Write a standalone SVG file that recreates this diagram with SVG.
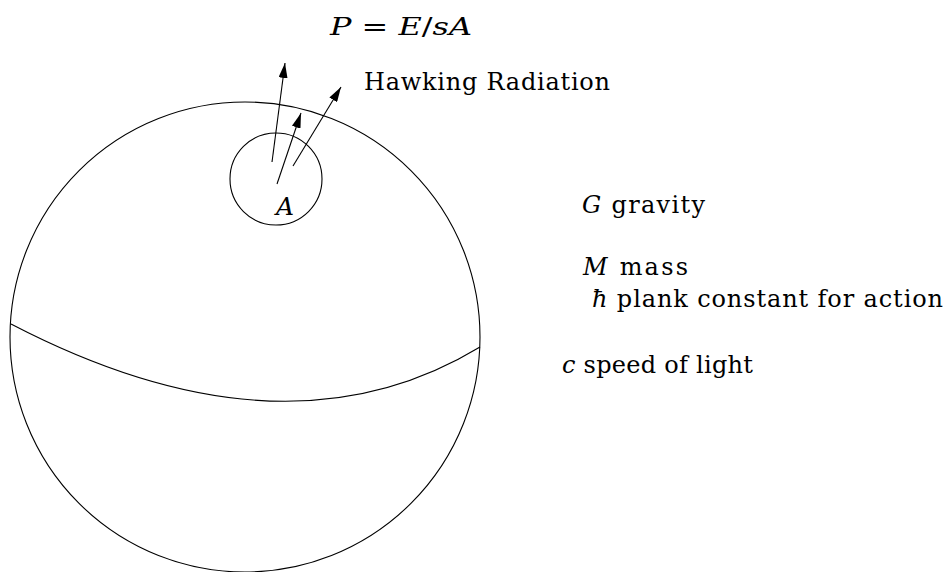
<svg xmlns="http://www.w3.org/2000/svg" width="944" height="572" viewBox="0 0 944 572">
<defs>
<marker id="ah" markerWidth="15" markerHeight="9" refX="15" refY="4.5" orient="auto" markerUnits="userSpaceOnUse">
<path d="M0,0 L15,4.5 L0,9 Z" fill="#000"/>
</marker>
<style>
.ln{fill:none;stroke:#000;stroke-width:1.1}
</style>
</defs>
<rect width="944" height="572" fill="#fff"/>
<g id="sphere">
<circle class="ln" cx="245" cy="337" r="235"/>
<path class="ln" d="M11,324 Q284,466 480,347"/>
</g>
<g id="area">
<circle class="ln" cx="276" cy="179" r="46"/>
<text font-family="DejaVu Serif" font-size="25" font-style="italic" x="276" y="215">A</text>
</g>
<g id="connectors">
<line class="ln" x1="272" y1="162" x2="285" y2="63" marker-end="url(#ah)"/>
<line class="ln" x1="277" y1="184" x2="301" y2="113" marker-end="url(#ah)"/>
<line class="ln" x1="293" y1="166" x2="341" y2="87" marker-end="url(#ah)"/>
</g>
<g id="labels">
<text font-family="DejaVu Serif" font-size="25" x="330" y="35" textLength="142" lengthAdjust="spacingAndGlyphs"><tspan font-style="italic">P</tspan> = <tspan font-style="italic">E</tspan>/<tspan font-style="italic">sA</tspan></text>
<text font-family="DejaVu Serif" font-size="24" x="364" y="90" textLength="246" lengthAdjust="spacing">Hawking Radiation</text>
<text font-family="DejaVu Serif" font-size="24" x="582" y="213" textLength="123" lengthAdjust="spacing"><tspan font-style="italic">G</tspan> gravity</text>
<text font-family="DejaVu Serif" font-size="24" x="583" y="275" textLength="105" lengthAdjust="spacing"><tspan font-style="italic">M</tspan> mass</text>
<text font-family="DejaVu Serif" font-size="24" x="592" y="307" textLength="351" lengthAdjust="spacing"><tspan font-style="italic">ħ</tspan> plank constant for action</text>
<text font-family="DejaVu Serif" font-size="24" x="562" y="373" textLength="191" lengthAdjust="spacing"><tspan font-style="italic">c</tspan> speed of light</text>
</g>
</svg>
